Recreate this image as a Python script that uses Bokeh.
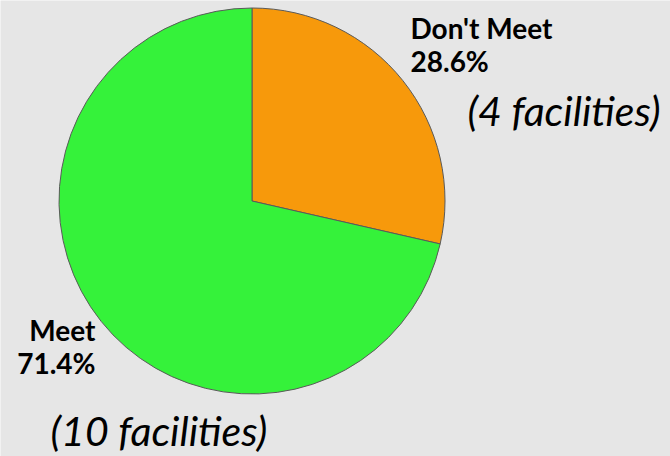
import math
from bokeh.plotting import figure
from bokeh.models import Range1d
from bokeh.core.properties import value
from bokeh.embed import file_html
from bokeh.resources import INLINE

categories = ["Don't Meet", "Meet"]
counts = [4, 10]
colors = ["#F7990B", "#35F23A"]

total = sum(counts)
W, H = 670, 456

p = figure(width=W, height=H, output_backend="svg", toolbar_location=None,
           x_range=Range1d(0, W), y_range=Range1d(0, H),
           x_axis_location=None, y_axis_location=None, min_border=0)
p.xgrid.visible = False
p.ygrid.visible = False
p.outline_line_color = None
p.background_fill_color = "#E6E6E6"
p.border_fill_color = "#E6E6E6"

cx, cy, r = 251.5, H - 200.5, 193

# slices clockwise from 12 o'clock
start = math.pi / 2
for cat, c, col in zip(categories, counts, colors):
    sweep = 2 * math.pi * c / total
    p.wedge(x=cx, y=cy, radius=r, start_angle=start - sweep, end_angle=start,
            fill_color=col, line_color="#5a5a5a", line_width=1)
    start -= sweep

pct = [f"{100 * c / total:.1f}%" for c in counts]

bold_kw = dict(text_font=value("Lato"), text_font_style="bold", text_font_size="28px",
               text_color="#000000", text_baseline="alphabetic")
ital_kw = dict(text_font=value("Lato"), text_font_style="italic", text_font_size="41px",
               text_color="#000000", text_baseline="alphabetic", text_align="left")

# Don't Meet labels
p.text(x=[410, 410], y=[H - 27.5, H - 60], text=[categories[0], pct[0]],
       text_align="left", **bold_kw)
p.text(x=[467], y=[H - 109.5], text=[f"({counts[0]} facilities)"], **ital_kw)

# Meet labels
p.text(x=[95, 95], y=[H - 329.5, H - 362.5], text=[categories[1], pct[1]],
       text_align="right", **bold_kw)
p.text(x=[50], y=[H - 429.5], text=[f"({counts[1]} facilities)"], **ital_kw)

open("out.html", "w").write(file_html(p, INLINE))
